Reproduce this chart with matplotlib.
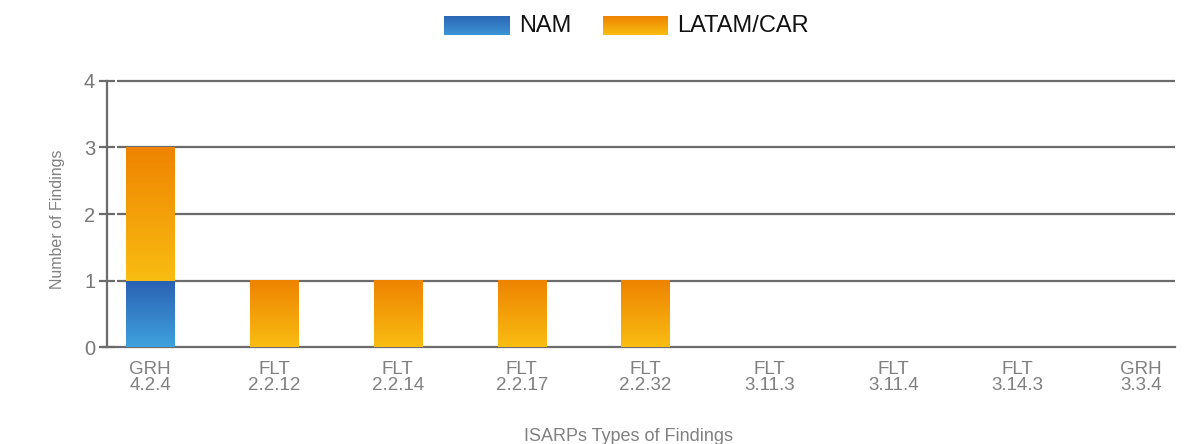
import numpy as np
import matplotlib
matplotlib.use("Agg")
import matplotlib.pyplot as plt
from matplotlib.colors import LinearSegmentedColormap

categories = ["GRH\n4.2.4", "FLT\n2.2.12", "FLT\n2.2.14", "FLT\n2.2.17", "FLT\n2.2.32",
              "FLT\n3.11.3", "FLT\n3.11.4", "FLT\n3.14.3", "GRH\n3.3.4"]
nam = [1, 0, 0, 0, 0, 0, 0, 0, 0]
latam_car = [2, 1, 1, 1, 1, 0, 0, 0, 0]

plt.rcParams['font.family'] = ['Liberation Sans', 'DejaVu Sans']

# gradients: bottom -> top
cm_blue = LinearSegmentedColormap.from_list("b", ["#3fa2de", "#2a60b2"])
cm_orange = LinearSegmentedColormap.from_list("o", ["#f9bd12", "#ee8300"])
grad = np.linspace(0, 1, 256).reshape(-1, 1)

fig = plt.figure(figsize=(11.89, 4.44), dpi=100)
ax = fig.add_axes([0.09, 0.218, 0.898, 0.6])

x = np.arange(len(categories))
b1 = ax.bar(x, nam, width=0.39, color="none", zorder=3)
b2 = ax.bar(x, latam_car, width=0.39, bottom=nam, color="none", zorder=3)

# fill each bar with a vertical gradient
for bars, cm in [(b1, cm_blue), (b2, cm_orange)]:
    for p in bars:
        if p.get_height() <= 0:
            continue
        x0, y0, w, h = p.get_x(), p.get_y(), p.get_width(), p.get_height()
        ax.imshow(grad, extent=[x0, x0 + w, y0, y0 + h], origin="lower",
                  aspect="auto", cmap=cm, zorder=3, interpolation="bicubic")

ax.set_xlim(-0.347, 8.27)
ax.set_ylim(0, 4)

# gridlines
ax.hlines([1, 2, 3, 4], -0.27, 8.27, colors="#6b6b6b", linewidth=1.6, zorder=2,
          clip_on=False)

for s in ["top", "right"]:
    ax.spines[s].set_visible(False)
for s in ["left", "bottom"]:
    ax.spines[s].set_color("#6b6b6b")
    ax.spines[s].set_linewidth(1.6)
ax.spines["bottom"].set_bounds(-0.38, 8.27)

ax.set_yticks([0, 1, 2, 3, 4])
ax.tick_params(axis="y", direction="inout", length=11, width=1.6, color="#6b6b6b",
               labelcolor="#777777", labelsize=14.5, pad=3)
ax.set_xticks(x)
ax.set_xticklabels(categories, linespacing=0.95)
ax.tick_params(axis="x", length=0, labelcolor="#808080", labelsize=13.5, pad=10)

ax.set_ylabel("Number of Findings", fontsize=11.5, color="#808080", labelpad=14)
ax.yaxis.label.set_y(0.48)
ax.set_xlabel("ISARPs Types of Findings", fontsize=13, color="#808080", labelpad=24)
ax.xaxis.label.set_x(0.488)

# legend drawn with gradient swatches
lax = fig.add_axes([0, 0, 1, 1], zorder=5)
lax.set_xlim(0, 1189)
lax.set_ylim(444, 0)
lax.axis("off")
lax.imshow(grad, extent=[444, 510, 35, 16], origin="lower", aspect="auto",
           cmap=LinearSegmentedColormap.from_list("lb", ["#3a96d6", "#2c66b4"]))
lax.text(519, 26, "NAM", fontsize=17, va="center", ha="left", color="#111111")
lax.imshow(grad, extent=[603, 668, 35, 16], origin="lower", aspect="auto", cmap=cm_orange)
lax.text(677, 26, "LATAM/CAR", fontsize=17, va="center", ha="left", color="#111111")
lax.set_xlim(0, 1189)
lax.set_ylim(444, 0)

fig.savefig("out.png", dpi=100)
